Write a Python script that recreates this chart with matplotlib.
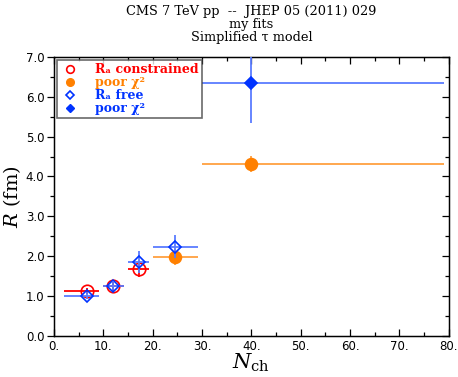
import matplotlib
matplotlib.use("Agg")
import matplotlib.pyplot as plt
import numpy as np
from matplotlib.lines import Line2D

plt.rcParams['mathtext.fontset'] = 'dejavuserif'

# Multiplicity bins (edges) and mean N_ch in each bin
nch = [6.6, 12.0, 17.3, 24.5, 40.0]
bin_lo = [2.0, 10.0, 15.0, 20.0, 30.0]
bin_hi = [9.2, 14.2, 19.2, 29.2, 79.0]

# R_a constrained fits: good fits and poor-chi2 fits
con_idx = [0, 1, 2]
con_R = [1.12, 1.24, 1.67]
con_err = [0.08, 0.12, 0.18]
con_poor_idx = [3, 4]
con_poor_R = [1.99, 4.32]
con_poor_err = [0.20, 0.20]

# R_a free fits: good fits and poor-chi2 fits
free_idx = [0, 1, 2, 3]
free_R = [1.01, 1.24, 1.86, 2.24]
free_err = [0.08, 0.12, 0.28, 0.28]
free_poor_idx = [4]
free_poor_R = [6.34]
free_poor_err = [1.00]

RED = '#ff0000'
ORANGE = '#ff8000'
ORANGE_L = '#ffa040'
BLUE = '#0033ff'
BLUE_L = '#5a7cff'

fig = plt.figure(figsize=(4.58, 3.77), dpi=100)
ax = fig.add_axes([0.118, 0.109, 0.862, 0.740])


def draw(idx, R, err, color, lcolor, marker, filled, ms, z):
    x = np.array([nch[i] for i in idx])
    lo = x - np.array([bin_lo[i] for i in idx])
    hi = np.array([bin_hi[i] for i in idx]) - x
    ax.errorbar(x, R, yerr=err, xerr=[lo, hi], fmt='none', ecolor=lcolor,
                elinewidth=1.3, capsize=0, zorder=z, clip_on=True)
    ax.plot(x, R, linestyle='none', marker=marker, ms=ms,
            mfc=color if filled else 'none', mec=color, mew=1.2, zorder=z + 1)


draw(con_idx, con_R, con_err, RED, RED, 'o', False, 9, 3)
draw(con_poor_idx, con_poor_R, con_poor_err, ORANGE, ORANGE_L, 'o', True, 8.5, 3)
draw(free_idx, free_R, free_err, BLUE, BLUE_L, 'D', False, 6.5, 5)
draw(free_poor_idx, free_poor_R, free_poor_err, BLUE, BLUE_L, 'D', True, 6.5, 5)

ax.set_xlim(0, 80)
ax.set_ylim(0, 7)
ax.set_xticks(np.arange(0, 81, 10))
ax.set_xticks(np.arange(0, 81, 5), minor=True)
ax.set_yticks(np.arange(0, 7.01, 1))
ax.set_yticks(np.arange(0, 7.01, 0.5), minor=True)
ax.set_xticklabels([f"{v}." for v in range(0, 81, 10)])
ax.set_yticklabels([f"{v:.1f}" for v in np.arange(0, 7.01, 1)])
ax.tick_params(axis='x', which='both', direction='in', top=True, labelsize=8.5,
               pad=3)
ax.tick_params(axis='y', which='both', direction='out', labelsize=8.5, pad=2)
ax.tick_params(which='major', length=5, width=0.9)
ax.tick_params(which='minor', length=3, width=0.9)
ax.yaxis.set_ticks_position('left')
for lab in ax.get_xticklabels() + ax.get_yticklabels():
    lab.set_family('DejaVu Sans')
for s in ax.spines.values():
    s.set_linewidth(1.0)

# right-hand inward ticks on a twin axis
axr = ax.twinx()
axr.set_ylim(0, 7)
axr.set_yticks(np.arange(0, 7.01, 1))
axr.set_yticks(np.arange(0, 7.01, 0.5), minor=True)
axr.tick_params(axis='y', which='both', direction='in', labelright=False)
axr.tick_params(which='major', length=5, width=0.9)
axr.tick_params(which='minor', length=3, width=0.9)

ax.set_xlabel(r'$N_{\rm ch}$', fontsize=15, labelpad=-1)
ax.set_ylabel(r'$R$ (fm)', fontsize=14, family='DejaVu Serif', labelpad=2)

title_lines = ['CMS 7 TeV pp  --  JHEP 05 (2011) 029', 'my fits',
               'Simplified \u03c4 model']
for k, line in enumerate(title_lines):
    fig.text(0.549, 1 - (12 + 12.5 * k) / 377, line, ha='center', va='center',
             fontsize=9.3, family='DejaVu Serif')

handles = [
    Line2D([], [], ls='none', marker='o', ms=5.5, mfc='none', mec=RED, mew=1.2),
    Line2D([], [], ls='none', marker='o', ms=5.5, mfc=ORANGE, mec=ORANGE),
    Line2D([], [], ls='none', marker='D', ms=4.5, mfc='none', mec=BLUE, mew=1.2),
    Line2D([], [], ls='none', marker='D', ms=4.5, mfc=BLUE, mec=BLUE),
]
labels = ['R\u2090 constrained', 'poor \u03c7\u00b2', 'R\u2090 free',
          'poor \u03c7\u00b2']
leg = ax.legend(handles, labels, loc='upper left',
                frameon=True, fancybox=False, edgecolor='#444444',
                borderaxespad=0.25, handletextpad=1.3, labelspacing=0.0,
                borderpad=0.25, handlelength=1.5,
                prop={'family': 'DejaVu Serif', 'weight': 'bold', 'size': 9})
leg.get_frame().set_linewidth(1.2)
for t, c in zip(leg.get_texts(), [RED, ORANGE, BLUE, BLUE]):
    t.set_color(c)
leg.set_zorder(10)
axr.set_zorder(ax.get_zorder() - 1)
ax.patch.set_visible(False)

fig.savefig('out.png', dpi=100)
